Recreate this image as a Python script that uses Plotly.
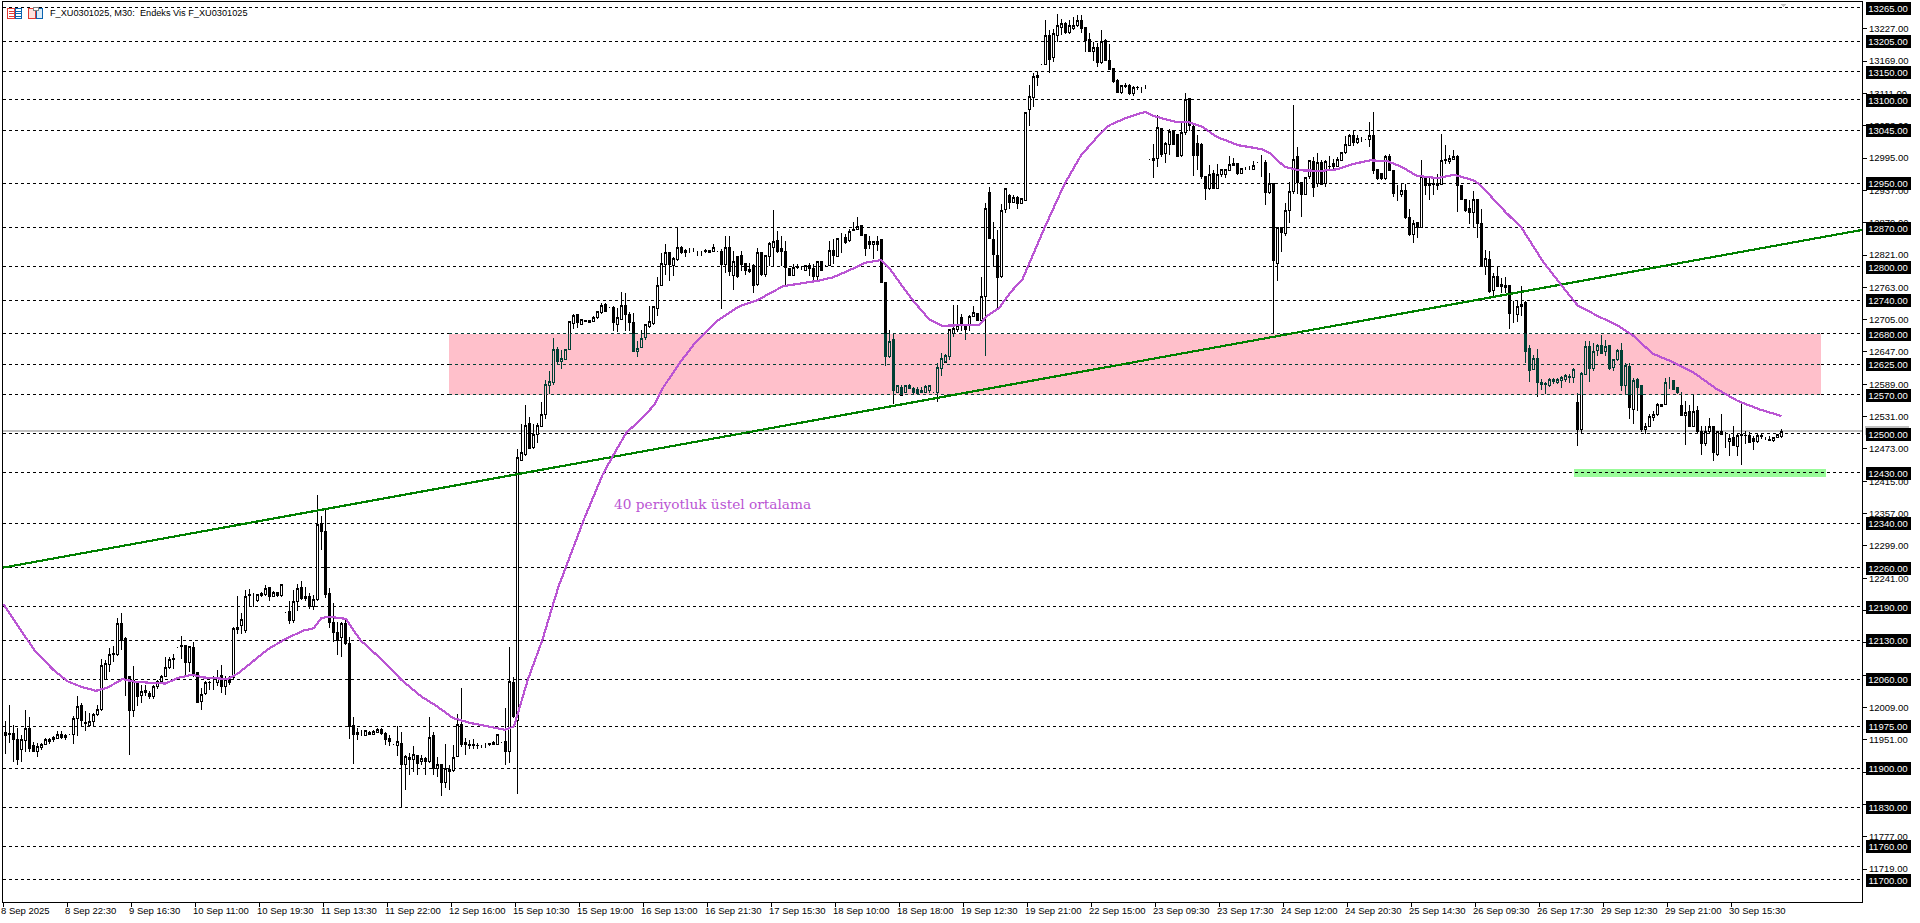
import plotly.graph_objects as go

opens = [
11965,11962,11962,11951,11934,11950,11972,11940,11930,11938,
11942,11948,11951,11954,11961,11958,11960,11960,11990,12012,
11983,11977,11984,11997,12005,12060,12087,12106,12105,12159,
12133,12065,12004,12053,12031,12040,12035,12028,12046,12056,
12065,12081,12097,12116,12120,12120,12090,12116,12071,12020,
12035,12053,12053,12054,12067,12047,12061,12062,12149,12157,
12147,12210,12211,12201,12210,12212,12224,12209,12215,12210,
12180,12181,12166,12200,12224,12204,12209,12190,12202,12339,
12325,12214,12161,12144,12134,12160,12123,11977,11960,11960,
11959,11965,11961,11965,11970,11963,11954,11942,11940,11945,
11906,11920,11916,11922,11912,11917,11913,11958,11899,11906,
11875,11898,11896,11921,11979,11942,11943,11942,11941,11941,
11941,11945,11947,11943,11947,11948,11930,12053,11985,12453,
12463,12519,12475,12499,12514,12535,12586,12593,12651,12630,
12633,12651,12698,12714,12696,12704,12704,12701,12708,12718,
12733,12727,12727,12696,12706,12731,12714,12699,12647,12655,
12673,12693,12698,12725,12767,12804,12826,12803,12813,12834,
12829,12828,12829,12828,12827,12829,12825,12828,12827,12827,
12804,12835,12784,12819,12820,12805,12791,12802,12768,12825,
12786,12819,12834,12847,12832,12828,12797,12784,12800,12800,
12794,12803,12797,12782,12809,12802,12803,12829,12819,12852,
12852,12847,12865,12866,12874,12857,12846,12840,12846,12848,
12771,12639,12669,12575,12584,12575,12587,12581,12579,12577,
12575,12578,12575,12574,12617,12629,12639,12681,12687,12708,
12693,12694,12711,12716,12704,12747,12933,12849,12821,12782,
12903,12927,12916,12924,12914,12919,13082,13103,13143,13163,
13163,13215,13176,13214,13230,13236,13220,13227,13233,13242,
13229,13208,13187,13193,13166,13206,13170,13155,13135,13113,
13125,13126,13110,13122,13121,13120,12992,12990,12994,13048,
13004,13020,13045,13037,12999,13041,13101,13052,13021,13020,
12961,12940,12967,12941,12966,12966,12973,12985,12985,12968,
12976,12976,12975,12987,12987,12987,12933,12949,12806,12870,
12859,12900,12935,12997,12951,12930,12961,12989,12949,12987,
12949,12980,12986,12980,12991,13005,13018,13036,13022,13028,
13028,13028,13036,12974,12967,12958,12997,12973,12931,12929,
12937,12888,12857,12880,12870,12960,12945,12948,12949,12948,
12992,12989,12993,12998,12945,12921,12904,12898,12920,12878,
12800,12813,12757,12782,12768,12763,12767,12717,12714,12729,
12735,12653,12616,12636,12593,12590,12586,12597,12593,12596,
12597,12602,12602,12556,12508,12606,12656,12617,12649,12659,
12648,12659,12619,12633,12650,12587,12621,12543,12597,12587,
12508,12514,12530,12535,12553,12552,12592,12595,12583,12551,
12533,12541,12514,12542,12504,12483,12505,12514,12463,12504,
12498,12487,12493,12478,12499,12497,12497,12492,12486,12497,
12492,12490,12488,12493,12495]

highs = [
11985,12014,11978,11972,11960,12005,11992,11948,11945,11945,
11954,11955,11958,11966,11966,11962,11960,11994,12030,12017,
12002,11999,11999,12014,12096,12094,12116,12120,12169,12178,
12136,12066,12083,12056,12050,12050,12038,12050,12059,12068,
12100,12099,12105,12116,12138,12122,12119,12126,12072,12044,
12056,12057,12065,12077,12086,12065,12065,12154,12209,12178,
12220,12221,12214,12211,12216,12229,12226,12218,12217,12229,
12180,12201,12220,12231,12236,12226,12214,12211,12391,12352,
12367,12223,12196,12163,12163,12169,12135,11992,11972,11969,
11969,11966,11968,11973,11973,11965,11960,11942,11975,11965,
11924,11928,11940,11924,11924,11921,11992,11965,11921,11906,
11943,11906,11942,11998,12044,11954,11951,11952,11945,11941,
11945,11946,11949,11962,11947,12008,12117,12064,12472,12517,
12551,12530,12517,12519,12557,12596,12613,12672,12656,12651,
12652,12702,12715,12715,12706,12705,12705,12711,12721,12734,
12735,12727,12729,12726,12754,12753,12719,12717,12666,12687,
12698,12729,12730,12782,12825,12840,12827,12818,12870,12837,
12831,12834,12834,12829,12827,12832,12830,12840,12827,12831,
12855,12855,12828,12820,12828,12807,12806,12804,12834,12827,
12820,12844,12901,12864,12855,12846,12798,12804,12804,12802,
12803,12807,12804,12810,12811,12802,12846,12850,12852,12861,
12858,12867,12880,12889,12875,12859,12856,12846,12855,12849,
12771,12687,12681,12588,12587,12588,12590,12585,12585,12585,
12587,12588,12575,12627,12646,12644,12687,12732,12732,12716,
12696,12714,12729,12717,12782,12915,12943,12881,12866,12913,
12940,12930,12928,12927,12924,13078,13126,13148,13149,13163,
13242,13224,13227,13253,13245,13239,13242,13248,13251,13251,
13230,13220,13203,13202,13224,13209,13200,13157,13136,13126,
13129,13127,13124,13124,13123,13126,12992,13020,13072,13049,
13024,13048,13046,13039,13060,13112,13102,13054,13036,13022,
12963,12982,12974,12985,12976,12976,12999,12995,12986,12978,
12979,12980,12989,12987,13001,12991,12968,12950,12871,12871,
12915,12952,13090,13014,12952,12961,12992,12997,13004,12991,
12991,12998,12994,12997,13006,13034,13038,13044,13036,13033,
13028,13059,13077,12974,12968,13000,13003,12974,12946,12949,
12949,12903,12883,12881,12991,12962,12961,12961,12967,13039,
13018,13000,13010,13000,12946,12922,12919,12936,12921,12904,
12830,12829,12788,12800,12779,12782,12768,12739,12738,12766,
12738,12660,12642,12653,12599,12593,12600,12600,12600,12604,
12607,12608,12618,12574,12611,12667,12666,12663,12662,12678,
12669,12660,12635,12653,12663,12627,12627,12600,12600,12587,
12519,12535,12541,12556,12554,12600,12602,12597,12584,12575,
12559,12551,12571,12550,12514,12514,12529,12515,12505,12536,
12504,12500,12515,12499,12556,12505,12504,12497,12499,12499,
12495,12496,12495,12500,12508]

lows = [
11925,11945,11912,11905,11912,11930,11930,11930,11921,11933,
11941,11944,11948,11952,11952,11951,11960,11944,11957,11974,
11966,11974,11975,11994,12003,12060,12072,12090,12102,12112,
12030,11924,11992,12011,12017,12029,12024,12025,12042,12053,
12063,12079,12079,12116,12096,12068,12072,12064,12018,12004,
12032,12041,12041,12047,12035,12032,12050,12059,12141,12141,
12142,12190,12190,12199,12208,12209,12201,12208,12208,12208,
12180,12159,12160,12183,12202,12201,12185,12184,12201,12291,
12205,12151,12127,12104,12100,12122,11952,11908,11951,11957,
11958,11960,11960,11964,11960,11942,11940,11942,11922,11831,
11861,11888,11894,11888,11906,11888,11909,11888,11885,11851,
11864,11861,11894,11921,11939,11924,11934,11935,11934,11936,
11936,11940,11942,11942,11947,11906,11909,11990,11854,12452,
12460,12473,12473,12483,12513,12527,12571,12587,12626,12617,
12633,12651,12689,12690,12695,12700,12699,12700,12707,12716,
12718,12727,12684,12683,12705,12684,12684,12647,12638,12654,
12669,12690,12696,12711,12766,12786,12774,12783,12810,12822,
12817,12824,12826,12820,12819,12825,12824,12826,12827,12725,
12789,12784,12759,12780,12792,12786,12788,12752,12766,12784,
12782,12801,12801,12825,12801,12766,12783,12783,12795,12794,
12793,12783,12775,12774,12792,12802,12802,12804,12818,12825,
12840,12845,12864,12865,12855,12820,12831,12813,12829,12771,
12621,12636,12553,12574,12568,12574,12580,12569,12569,12575,
12573,12574,12575,12557,12603,12627,12632,12674,12683,12684,
12668,12684,12710,12702,12702,12640,12849,12800,12725,12779,
12897,12904,12915,12904,12913,12918,13053,13086,13124,13163,
13162,13147,13167,13203,13215,13217,13218,13224,13230,13220,
13185,13185,13170,13159,13164,13169,13153,13130,13111,13110,
13120,13109,13106,13117,13112,13118,12992,12959,12979,12996,
12987,13000,13018,12996,12996,13036,13044,12963,12973,12958,
12920,12937,12939,12940,12961,12959,12972,12980,12964,12966,
12973,12973,12973,12987,12961,12910,12930,12680,12775,12827,
12856,12879,12931,12931,12889,12928,12958,12925,12943,12946,
12943,12972,12973,12979,12990,13003,13017,13017,13021,13024,
13028,13015,12967,12955,12955,12956,12971,12925,12918,12925,
12886,12855,12843,12851,12869,12928,12919,12928,12937,12946,
12985,12985,12991,12898,12919,12898,12877,12871,12851,12800,
12785,12752,12745,12763,12752,12752,12689,12699,12700,12712,
12627,12593,12615,12566,12578,12571,12584,12590,12590,12583,
12594,12591,12591,12479,12500,12605,12593,12612,12639,12644,
12639,12615,12612,12630,12577,12571,12526,12517,12541,12504,
12500,12514,12523,12533,12548,12551,12581,12578,12572,12532,
12480,12513,12513,12502,12463,12479,12502,12451,12461,12498,
12475,12460,12478,12460,12445,12481,12484,12471,12484,12490,
12489,12487,12486,12492,12493]

closes = [
11958,11961,11951,11915,11951,11972,11936,11930,11939,11942,
11952,11952,11955,11961,11955,11956,11960,11990,12010,11986,
11981,11984,11997,12006,12084,12088,12105,12104,12160,12130,
12059,12004,12058,12028,12037,12036,12029,12046,12056,12065,
12081,12096,12096,12116,12118,12090,12118,12070,12018,12032,
12054,12054,12053,12062,12047,12060,12053,12150,12153,12167,
12209,12211,12211,12211,12214,12223,12208,12216,12210,12229,
12180,12166,12200,12223,12204,12209,12190,12203,12338,12325,
12212,12162,12144,12129,12160,12123,11975,11960,11965,11960,
11967,11961,11966,11970,11962,11952,11948,11942,11948,11906,
11921,11915,11924,11909,11917,11912,11956,11900,11906,11875,
11900,11894,11920,11979,11942,11947,11941,11940,11940,11941,
11941,11942,11943,11960,11947,11930,12055,11993,12457,12466,
12515,12474,12499,12515,12534,12588,12594,12651,12630,12635,
12652,12701,12713,12699,12705,12701,12700,12709,12720,12731,
12720,12727,12699,12708,12730,12714,12699,12647,12654,12672,
12696,12701,12729,12767,12805,12825,12804,12814,12835,12826,
12826,12828,12829,12828,12827,12827,12829,12834,12827,12804,
12834,12792,12810,12782,12804,12794,12795,12767,12825,12786,
12820,12842,12846,12828,12828,12798,12784,12799,12799,12800,
12802,12796,12782,12809,12794,12802,12829,12820,12850,12852,
12843,12864,12866,12872,12856,12832,12840,12846,12840,12771,
12639,12666,12577,12586,12569,12587,12582,12575,12573,12575,
12585,12587,12575,12620,12635,12641,12687,12690,12694,12694,
12687,12711,12717,12704,12747,12904,12851,12822,12780,12900,
12940,12916,12925,12914,12922,13077,13105,13142,13140,13163,
13214,13172,13218,13232,13236,13220,13232,13233,13241,13228,
13206,13187,13193,13166,13205,13170,13154,13132,13113,13125,
13123,13110,13122,13121,13121,13120,12992,12994,13050,13002,
13021,13042,13020,12998,13041,13100,13054,12999,13000,12961,
12940,12966,12940,12966,12974,12974,12983,12982,12968,12976,
12976,12976,12982,12987,12987,12934,12950,12811,12871,12861,
12900,12935,12992,12951,12930,12960,12991,12942,12987,12948,
12989,12979,12980,12992,13005,13020,13036,13022,13030,13028,
13028,13036,12973,12958,12958,12998,12973,12932,12931,12937,
12888,12857,12878,12870,12961,12945,12949,12950,12945,12990,
12990,12994,12998,12945,12921,12901,12898,12921,12878,12800,
12815,12755,12783,12764,12764,12767,12716,12717,12729,12733,
12648,12614,12635,12593,12588,12588,12597,12594,12597,12602,
12605,12603,12615,12508,12608,12657,12617,12648,12659,12645,
12657,12618,12633,12650,12586,12623,12548,12596,12584,12507,
12514,12532,12535,12553,12550,12592,12592,12580,12574,12533,
12539,12514,12541,12504,12483,12505,12513,12466,12504,12499,
12498,12492,12479,12497,12497,12498,12485,12487,12497,12495,
12492,12488,12493,12499,12505]

ema_bars = [-0.6,3.9,7.4,11.9,15.5,19,22.6,25.3,29.3,32.4,36,40,43.1,46.7,49.4,55.6,58.3,61,65.5,69.5,74.4,77,78.9,80.6,85.1,88.7,94.5,98.9,103.9,107.9,111.9,116.4,121.7,124.8,127.1,130.6,134.2,138.2,144.75,149.3,151.8,155.2,159.3,162.3,164.4,168.5,172.7,178,180.2,183.5,187.7,194.4,203.3,206.9,210.5,214.9,218.9,221.2,224.3,227,231,234.2,243.5,245.3,248.4,251.5,254.2,255.9,259.9,264.8,268.9,274.2,276,280.5,285,287.2,293,295.6,299.2,302.8,308.2,314,316.2,319.8,323.3,329.2,333.1,336.7,341.2,345.6,349.1,352.8,358.1,362.1,367,368.8,375,379,384.3,388.5,393.1,398.5,402.7,406.8,411.8,416.8,421.8,427.7,433.1,438.5,444]
ema_values = [12195,12148,12110,12077,12056,12046,12039,12044,12060,12055,12053,12052,12062,12068,12063,12060,12071,12087,12113,12130,12147,12151,12169,12172,12168,12130,12092,12059,12029,12011,11990,11981,11973,11969,11975,12059,12130,12225,12349,12427,12460,12502,12529,12553,12583,12627,12666,12703,12714,12729,12739,12765,12775,12781,12792,12807,12812,12795,12764,12738,12705,12694,12696,12711,12726,12756,12777,12806,12872,12949,13000,13043,13054,13068,13078,13070,13059,13060,13051,13033,13018,13011,13003,12979,12973,12972,12975,12984,12991,12989,12979,12963,12959,12965,12955,12946,12898,12870,12810,12771,12730,12710,12696,12677,12644,12629,12611,12581,12559,12544,12532]

trend_bars = [-0.625, 464.125]
trend_values = [12260, 12866]

levels = [13265,13205,13150,13100,13045,12950,12870,12800,12740,12680,12625,12570,12500,12430,12340,12260,12190,12130,12060,11975,11900,11830,11760,11700]
axis_ticks = [13227,13169,13111,13053,12995,12937,12879,12821,12763,12705,12647,12589,12531,12473,12415,12357,12299,12241,12183,12125,12067,12009,11951,11893,11835,11777,11719]
time_labels = ["8 Sep 2025","8 Sep 22:30","9 Sep 16:30","10 Sep 11:00","10 Sep 19:30","11 Sep 13:30","11 Sep 22:00","12 Sep 16:00","15 Sep 10:30","15 Sep 19:00","16 Sep 13:00","16 Sep 21:30","17 Sep 15:30","18 Sep 10:00","18 Sep 18:00","19 Sep 12:30","19 Sep 21:00","22 Sep 15:00","23 Sep 09:30","23 Sep 17:30","24 Sep 12:00","24 Sep 20:30","25 Sep 14:30","26 Sep 09:30","26 Sep 17:30","29 Sep 12:30","29 Sep 21:00","30 Sep 15:30"]

PL, PR, PT, PB = 3, 1862, 2, 902
XMIN, XMAX = -0.625, 464.125
YMIN, YMAX = 11660, 13275
band_lo, band_hi = 12570, 12680
band_x = [110.9, 453.9]
green_y = [12423, 12437]
green_x = [392, 455]
TEAL = "#003F34"
PINK = "#FFC0CB"
ORCHID = "#BA55D3"
FONT = "Liberation Sans"
x = list(range(len(opens)))

def fx(px):
    return (px - PL) / (PR - PL)
def fy(px):
    return (PB - px) / (PB - PT)
def yfrac(p):
    return (p - YMIN) / (YMAX - YMIN)

fig = go.Figure()
common = dict(x=x, open=opens, high=highs, low=lows, close=closes, hoverinfo="skip", showlegend=False, whiskerwidth=0)
fig.add_trace(go.Candlestick(
    increasing=dict(line=dict(color="black", width=1), fillcolor="white"),
    decreasing=dict(line=dict(color="black", width=1), fillcolor="black"),
    yaxis="y", **common))
fig.add_trace(go.Candlestick(
    increasing=dict(line=dict(color=TEAL, width=1), fillcolor=PINK),
    decreasing=dict(line=dict(color=TEAL, width=1), fillcolor=TEAL),
    yaxis="y2", **common))
fig.add_trace(go.Scatter(x=trend_bars, y=trend_values, mode="lines", line=dict(color="#008000", width=2.2), hoverinfo="skip", showlegend=False))
fig.add_trace(go.Scatter(x=ema_bars, y=ema_values, mode="lines", line=dict(color=ORCHID, width=2.2), hoverinfo="skip", showlegend=False))

shapes = [
    dict(type="rect", layer="below", xref="x", yref="y", x0=band_x[0], x1=band_x[1], y0=band_lo, y1=band_hi, fillcolor=PINK, line_width=0),
    dict(type="rect", layer="below", xref="x", yref="y", x0=green_x[0], x1=green_x[1], y0=green_y[0], y1=green_y[1], fillcolor="#98FB98", line_width=0),
    dict(type="line", layer="below", xref="paper", yref="y", x0=0, x1=1, y0=closes[-1], y1=closes[-1], line=dict(color="#C0C0C0", width=2)),
]
for lv in levels:
    if band_lo <= lv <= band_hi:
        segs = [(XMIN, band_x[0], "black"), (band_x[0], band_x[1], TEAL), (band_x[1], XMAX, "black")]
    else:
        segs = [(XMIN, XMAX, "black")]
    for a, b, col in segs:
        shapes.append(dict(type="line", layer="below", xref="x", yref="y", x0=a, x1=b, y0=lv, y1=lv,
                           line=dict(color=col, width=1, dash="3px,3px")))

def rect(x0, x1, y0, y1, col, fill="rgba(0,0,0,0)", w=1):
    shapes.append(dict(type="rect", xref="paper", yref="paper", x0=fx(x0), x1=fx(x1), y0=fy(y0), y1=fy(y1),
                       fillcolor=fill, line=dict(color=col, width=w)))
def hline(x0, x1, y, col):
    shapes.append(dict(type="line", xref="paper", yref="paper", x0=fx(x0), x1=fx(x1), y0=fy(y), y1=fy(y), line=dict(color=col, width=1)))

# legend icons in the header
RED, BLUE = "#E23A32", "#0A63B0"
rect(7.5, 14.5, 8.5, 18.5, RED)
rect(15.5, 21.5, 8.5, 18.5, BLUE)
for yy in (11, 13.5, 16):
    hline(9, 14, yy, RED)
    hline(16, 21, yy, BLUE)
rect(28.5, 35.5, 8.5, 18.5, RED, "#FDE3DF")
rect(36.5, 42.5, 8.5, 18.5, BLUE, "#DCEBF7")
rect(33.5, 38.5, 7.5, 10.5, "#808080", "white")
# marker at the top of the price area
shapes.append(dict(type="path", xref="paper", yref="paper",
                   path=f"M {fx(1780)} {fy(3.5)} L {fx(1787)} {fy(3.5)} L {fx(1783.5)} {fy(7.5)} Z",
                   fillcolor="#C0C0C0", line_width=0))
# price marker of the last bar in the right-hand scale
shapes.append(dict(type="rect", xref="paper", yref="y", x0=fx(1865), x1=fx(1909),
                   y0=closes[-1] - 7, y1=closes[-1] + 10, fillcolor="#C0C0C0", line_width=0))

annotations = [
    dict(xref="paper", yref="paper", x=fx(48), y=fy(13), xanchor="left", yanchor="middle", showarrow=False,
         text="F_XU0301025, M30:\u00a0\u00a0Endeks Vis F_XU0301025", font=dict(family=FONT, size=9.2, color="black")),
    dict(xref="paper", yref="paper", x=fx(612), y=fy(503.5), xanchor="left", yanchor="middle", showarrow=False,
         text="40 periyotluk üstel ortalama", font=dict(family="DejaVu Serif", size=13.7, color=ORCHID)),
]
for lv in levels:
    annotations.append(dict(xref="paper", yref="y", x=fx(1865), y=lv, xanchor="left", yanchor="middle", showarrow=False,
                            text=f"{lv:.2f}", width=44, height=12, bgcolor="black", borderpad=0, align="center",
                            font=dict(family=FONT, size=9.5, color="white")))

fig.update_layout(
    width=1920, height=923, margin=dict(l=PL, r=1920 - PR, t=PT, b=923 - PB, autoexpand=False),
    paper_bgcolor="white", plot_bgcolor="rgba(0,0,0,0)", showlegend=False, hovermode=False,
    boxgap=0.49, shapes=shapes, annotations=annotations,
    xaxis=dict(range=[XMIN, XMAX], rangeslider=dict(visible=False), showgrid=False, zeroline=False,
               showline=True, linecolor="black", linewidth=1, mirror=True,
               ticks="outside", ticklen=4, tickcolor="black", tickwidth=1,
               tickmode="array", tickvals=[16 * k + XMIN for k in range(len(time_labels))], ticktext=time_labels,
               ticklabelposition="outside right", ticklabelshift=-3, tickangle=0,
               tickfont=dict(family=FONT, size=9.5, color="black"), fixedrange=True),
    yaxis=dict(range=[YMIN, YMAX], side="right", showgrid=False, zeroline=False,
               showline=True, linecolor="black", linewidth=1, mirror=True,
               ticks="outside", ticklen=4, tickcolor="black", tickwidth=1,
               tickmode="array", tickvals=axis_ticks, ticktext=[f"{t:.2f}" for t in axis_ticks],
               tickfont=dict(family=FONT, size=9.5, color="black"), fixedrange=True),
    yaxis2=dict(range=[band_lo, band_hi], domain=[yfrac(band_lo), yfrac(band_hi)], anchor="x", visible=False,
                showgrid=False, zeroline=False, fixedrange=True),
)

post = """
document.body.style.margin = '0';
document.body.style.overflow = 'hidden';
var st = document.createElement('style');
st.textContent = '.js-plotly-plot svg path, .js-plotly-plot svg line, .js-plotly-plot svg rect {shape-rendering: crispEdges !important;}';
document.head.appendChild(st);
"""
fig.write_html("out.html", post_script=post, config=dict(displayModeBar=False))
